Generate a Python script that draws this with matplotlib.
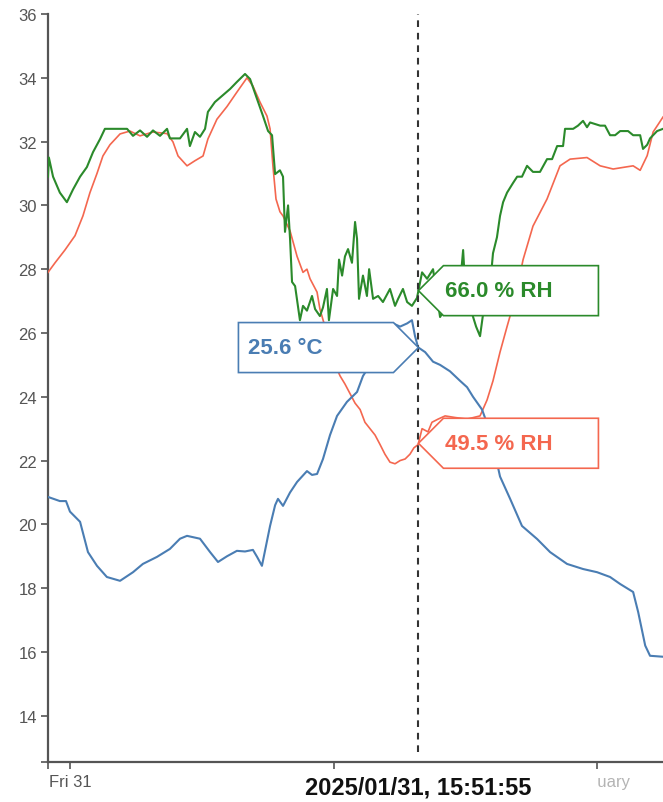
import numpy as np
import matplotlib.pyplot as plt
import matplotlib.transforms as mtransforms
from matplotlib.patches import Polygon, Rectangle

plt.rcParams['font.family'] = ['Liberation Sans', 'DejaVu Sans']

# time axis: hours since Fri 31 Jan 2025 00:00
temp_hours = [-1.00, -0.46, -0.18, 0.00, 0.46, 0.82, 1.23, 1.68, 2.28, 2.87,
              3.32, 3.96, 4.55, 5.01, 5.33, 5.92, 6.38, 6.74, 7.15, 7.60,
              7.97, 8.33, 8.52, 8.74, 9.11, 9.34, 9.47, 9.70, 10.02, 10.34,
              10.79, 11.02, 11.25, 11.52, 11.84, 12.16, 12.61, 13.07, 13.34, 13.66,
              14.12, 14.48, 14.71, 15.03, 15.35, 15.57, 15.71, 15.85, 16.17, 16.53,
              16.85, 17.30, 17.76, 18.08, 18.35, 18.76, 19.13, 19.58, 20.04, 20.58,
              21.27, 21.86, 22.63, 23.36, 24.00, 24.59, 25.05, 25.64, 25.87, 26.19,
              26.41, 27.00]
temp_c = [20.86, 20.73, 20.73, 20.4, 20.08, 19.13, 18.7, 18.35, 18.23, 18.5,
          18.76, 18.98, 19.23, 19.55, 19.64, 19.55, 19.13, 18.82, 19.0, 19.17,
          19.15, 19.2, 18.98, 18.7, 19.95, 20.6, 20.8, 20.58, 21.0, 21.33,
          21.67, 21.55, 21.58, 22.05, 22.8, 23.4, 23.84, 24.15, 24.65, 25.0,
          25.5, 26.0, 26.3, 26.2, 26.3, 26.4, 25.9, 25.55, 25.4, 25.1,
          25.0, 24.8, 24.5, 24.3, 24.0, 23.6, 22.9, 21.5, 20.8, 19.95,
          19.54, 19.13, 18.76, 18.6, 18.5, 18.35, 18.13, 17.88, 17.25, 16.2,
          15.88, 15.85]

# humidity series, drawn on the same shared scale as the chart shows them
rh_green_hours = [-1.00, -0.96, -0.77, -0.46, -0.14, 0.14, 0.46, 0.77, 1.05, 1.37,
                  1.59, 2.60, 2.87, 3.19, 3.51, 3.78, 4.10, 4.42, 4.55, 5.01,
                  5.33, 5.46, 5.69, 5.92, 6.15, 6.28, 6.60, 6.92, 7.29, 7.60,
                  7.97, 8.20, 8.52, 8.79, 9.02, 9.20, 9.34, 9.56, 9.70, 9.79,
                  9.93, 10.02, 10.11, 10.25, 10.47, 10.61, 10.79, 11.02, 11.16, 11.38,
                  11.52, 11.70, 11.79, 11.98, 12.16, 12.25, 12.39, 12.52, 12.66, 12.84,
                  12.98, 13.07, 13.16, 13.34, 13.52, 13.62, 13.80, 14.03, 14.25, 14.57,
                  14.80, 14.94, 15.16, 15.35, 15.57, 15.80, 16.03, 16.26, 16.53, 16.85,
                  17.30, 17.67, 17.90, 18.03, 18.31, 18.49, 18.67, 18.85, 19.13, 19.26,
                  19.44, 19.58, 19.72, 19.90, 20.17, 20.36, 20.58, 20.81, 21.08, 21.40,
                  21.72, 21.95, 22.18, 22.45, 22.54, 22.91, 23.13, 23.36, 23.54, 23.68,
                  24.14, 24.36, 24.59, 24.82, 25.05, 25.41, 25.64, 25.96, 26.09, 26.28,
                  26.41, 26.73, 27.00]
rh_green = [30.9, 31.5, 30.9, 30.4, 30.1, 30.5, 30.9, 31.2, 31.67, 32.08,
            32.4, 32.4, 32.18, 32.35, 32.15, 32.35, 32.18, 32.4, 32.1, 32.1,
            32.4, 31.86, 32.3, 32.15, 32.4, 32.93, 33.24, 33.43, 33.65, 33.87,
            34.12, 33.96, 33.33, 32.8, 32.33, 32.2, 30.98, 31.1, 30.9, 29.17,
            30.0, 28.95, 27.6, 27.47, 26.4, 26.85, 26.7, 27.16, 26.75, 26.53,
            26.8, 27.38, 26.4, 27.38, 27.16, 28.3, 27.8, 28.4, 28.63, 28.2,
            29.48, 28.95, 27.07, 27.8, 27.16, 28.0, 27.07, 27.16, 26.97, 27.38,
            26.85, 27.07, 27.38, 26.97, 26.85, 27.1, 27.9, 27.7, 28.0, 26.5,
            27.0, 26.8, 28.6, 27.0, 26.6, 26.2, 25.9, 26.8, 27.5, 28.5,
            29.0, 29.67, 30.1, 30.4, 30.7, 30.9, 30.9, 31.24, 31.05, 31.05,
            31.45, 31.45, 31.86, 31.86, 32.4, 32.4, 32.5, 32.65, 32.45, 32.6,
            32.5, 32.5, 32.2, 32.2, 32.33, 32.33, 32.2, 32.2, 31.77, 31.9,
            32.1, 32.33, 32.4]

rh_red_hours = [-1.00, -0.68, -0.23, 0.23, 0.59, 0.91, 1.23, 1.50, 1.82, 2.28,
                2.73, 3.19, 3.78, 4.42, 4.69, 4.92, 5.33, 5.69, 6.06, 6.28,
                6.69, 7.15, 7.60, 8.06, 8.33, 8.65, 8.97, 9.11, 9.24, 9.38,
                9.56, 9.70, 10.02, 10.34, 10.61, 10.79, 10.93, 11.25, 11.38, 11.61,
                11.84, 12.07, 12.30, 12.52, 12.75, 12.98, 13.21, 13.43, 13.66, 13.89,
                14.12, 14.34, 14.57, 14.80, 15.03, 15.26, 15.48, 15.66, 15.85, 16.03,
                16.30, 16.48, 16.76, 17.08, 17.53, 18.08, 18.67, 18.99, 19.26, 19.58,
                19.90, 20.26, 20.63, 21.08, 21.72, 22.31, 22.77, 23.54, 24.14, 24.73,
                25.27, 25.64, 25.96, 26.28, 26.55, 27.00]
rh_red = [27.9, 28.2, 28.6, 29.05, 29.67, 30.4, 31.0, 31.55, 31.9, 32.24,
          32.33, 32.18, 32.3, 32.25, 31.99, 31.55, 31.24, 31.4, 31.55, 32.08,
          32.7, 33.1, 33.55, 34.0, 33.74, 33.24, 32.8, 32.4, 31.24, 30.2,
          29.8, 29.67, 29.2, 28.4, 27.9, 28.0, 27.7, 27.28, 26.75, 26.2,
          25.6, 25.0, 24.65, 24.4, 24.1, 23.8, 23.6, 23.2, 23.0, 22.8,
          22.5, 22.2, 21.95, 21.9, 22.0, 22.05, 22.2, 22.4, 22.5, 23.0,
          22.9, 23.2, 23.3, 23.4, 23.35, 23.3, 23.4, 23.9, 24.5, 25.4,
          26.2, 27.07, 28.3, 29.35, 30.2, 31.24, 31.45, 31.5, 31.24, 31.14,
          31.2, 31.24, 31.1, 31.56, 32.3, 32.77]

cursor_hour = 15 + 51 / 60 + 55 / 3600
cursor_text = '2025/01/31, 15:51:55'
temp_label = '25.6 °C'
rh_green_label = '66.0 % RH'
rh_red_label = '49.5 % RH'

y_ticks = list(range(14, 37, 2))
x_ticks = [0, 12, 24]
# the noon label sits under the cursor label, so it is left blank
x_tick_labels = ['Fri 31', '', 'February']

BLUE = '#4a7db3'
GREEN = '#2b8a2b'
RED = '#f4674f'
AXIS = '#555555'

fig = plt.figure(figsize=(6.63, 8.03), dpi=100)
ax = fig.add_axes([48 / 663, 40 / 803, 615 / 663, 748 / 803])
ax.set_xlim(-1, 27)
ax.set_ylim(12.55, 36)

ax.plot(rh_red_hours, rh_red, color=RED, lw=1.2, zorder=3)
ax.plot(temp_hours, temp_c, color=BLUE, lw=1.5, zorder=3)
ax.plot(rh_green_hours, rh_green, color=GREEN, lw=1.5, zorder=3)

ax.axvline(cursor_hour, ymin=0.013, ymax=1.0, color='#333333', lw=1.5,
           linestyle=(0, (3.2, 2.8)), zorder=4)

# axes styling
for side in ['top', 'right']:
    ax.spines[side].set_visible(False)
for side in ['left', 'bottom']:
    ax.spines[side].set_color(AXIS)
    ax.spines[side].set_linewidth(1.6)

lo = ax.get_ylim()[0]
ax.set_yticks([lo] + y_ticks)
ax.set_yticklabels([''] + [str(t) for t in y_ticks])
ax.set_xticks([-1] + x_ticks)
ax.set_xticklabels([''] + x_tick_labels)
ax.tick_params(direction='out', length=5, width=1.2, color=AXIS,
               labelcolor=AXIS, labelsize=12)
ax.tick_params(axis='y', pad=3)
ax.tick_params(axis='x', pad=4)
ax.get_xticklabels()[-1].set_color('#b4b4b4')


def px_at(x, y):
    # offsets given in pixels around a data point
    return (mtransforms.Affine2D().scale(fig.dpi / 100)
            + mtransforms.ScaledTranslation(x, y, ax.transData))


def tag(value_hours, values, text, color, side):
    y = np.interp(cursor_hour, value_hours, values)
    tr = px_at(cursor_hour, y)
    s = 1 if side == 'right' else -1
    verts = [(0, 0), (s * 25, 25), (s * 180, 25), (s * 180, -25), (s * 25, -25)]
    ax.add_patch(Polygon(verts, closed=True, transform=tr, facecolor='white',
                         edgecolor=color, lw=1.2, zorder=6, clip_on=False))
    tx = 27 if side == 'right' else -170
    ax.text(tx, 0, text, transform=tr, color=color, fontsize=16,
            fontweight='bold', ha='left', va='center', zorder=7)


tag(rh_green_hours, rh_green, rh_green_label, GREEN, 'right')
tag(temp_hours, temp_c, temp_label, BLUE, 'left')
tag(rh_red_hours, rh_red, rh_red_label, RED, 'right')

# cursor time label under the axis
tr = px_at(cursor_hour, lo)
ax.add_patch(Rectangle((-180, -50), 360, 40, transform=tr, facecolor='white',
                       edgecolor='none', zorder=5, clip_on=False))
ax.text(0, -25, cursor_text, transform=tr, ha='center', va='center',
        fontsize=17, fontweight='bold', color='#111111', zorder=6, clip_on=False)

fig.savefig('out.png', dpi=100)
